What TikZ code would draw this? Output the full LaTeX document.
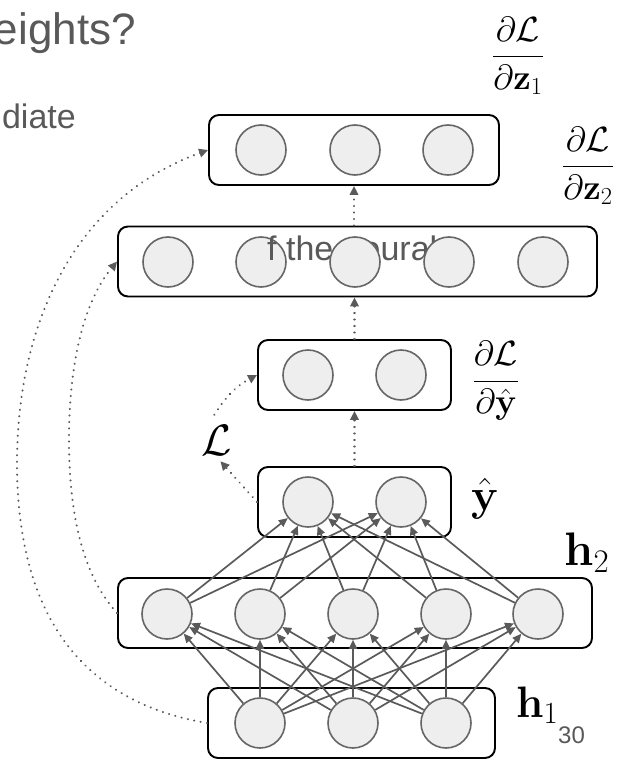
\RequirePackage{fix-cm}
\documentclass[tikz,border=0pt]{standalone}
\usepackage[no-math]{fontspec}
\setmainfont{Liberation Sans}
\usetikzlibrary{arrows.meta}
\definecolor{edgegray}{HTML}{5A5A5A}
\definecolor{circfill}{HTML}{EEEEEE}
\definecolor{circline}{HTML}{666666}
\definecolor{txtgray}{HTML}{595959}
\begin{document}
\begin{tikzpicture}[x=1pt,y=-1pt,
  layerbox/.style={draw=black, line width=1.9pt, rounded corners=10pt, minimum height=70pt, inner sep=0pt},
  neuron/.style={circle, draw=circline, fill=circfill, line width=1.6pt, minimum size=50pt, inner sep=0pt},
  conn/.style={draw=edgegray, line width=1.7pt, -{Triangle[length=9pt,width=8pt]}},
  flow/.style={draw=edgegray, line width=2.2pt, line cap=round, dash pattern=on 0.1pt off 6.4pt, -{Triangle[length=9pt,width=8.5pt,line cap=butt]}},
  slidetext/.style={text=txtgray, inner sep=0pt},
  mathlabel/.style={inner sep=0pt},
]
\useasboundingbox (0,0) rectangle (618,760);
% slide text
\node[slidetext, anchor=base east, font=\fontsize{44}{50}\selectfont] (title) at (136,45) {eights?};
\node[slidetext, anchor=base east, font=\fontsize{34}{40}\selectfont] (body) at (76,128) {diate};
% layer boxes
\node[layerbox, minimum width=290pt] (Bz1) at (354,150) {};
\node[layerbox, minimum width=479pt] (Bz2) at (357.5,261.5) {};
\node[layerbox, minimum width=193pt] (Bdy) at (354.5,375) {};
\node[layerbox, minimum width=193pt] (Byh) at (354.5,502) {};
\node[layerbox, minimum width=474pt] (Bh2) at (355,613) {};
\node[layerbox, minimum width=287pt] (Bh1) at (351.5,723) {};
% neurons
\node[neuron] (z1a) at (261,150) {};
\node[neuron] (z1b) at (355,150) {};
\node[neuron] (z1c) at (448,150) {};
\node[neuron] (z2a) at (168,262) {};
\node[neuron] (z2b) at (261,262) {};
\node[slidetext, anchor=base west, font=\fontsize{34}{40}\selectfont] (ghost) at (267,260) {f the neural};
\node[neuron] (z2c) at (355,262) {};
\node[neuron] (z2d) at (449,262) {};
\node[neuron] (z2e) at (543,262) {};
\node[neuron] (dya) at (308,375) {};
\node[neuron] (dyb) at (401,375) {};
\node[neuron] (yha) at (308,502) {};
\node[neuron] (yhb) at (401,502) {};
\node[neuron] (h2a) at (167,614) {};
\node[neuron] (h2b) at (260,614) {};
\node[neuron] (h2c) at (353,614) {};
\node[neuron] (h2d) at (446,614) {};
\node[neuron] (h2e) at (538,614) {};
\node[neuron] (h1a) at (260,723) {};
\node[neuron] (h1b) at (353,723) {};
\node[neuron] (h1c) at (446,723) {};
% full connections
\foreach \s in {a,b,c} \foreach \t in {a,b,c,d,e} \draw[conn] (h1\s) -- (h2\t);
\foreach \s in {a,b,c,d,e} \foreach \t in {a,b} \draw[conn] (h2\s) -- (yh\t);
% labels
\node[mathlabel, font=\fontsize{35}{40}\selectfont] (dz1) at (518,56) {$\displaystyle\frac{\partial\mathcal{L}}{\partial\mathbf{z}_1}$};
\node[mathlabel, font=\fontsize{35}{40}\selectfont] (dz2) at (588,166) {$\displaystyle\frac{\partial\mathcal{L}}{\partial\mathbf{z}_2}$};
\node[mathlabel, font=\fontsize{35}{40}\selectfont] (dyh) at (496,381) {$\displaystyle\frac{\partial\mathcal{L}}{\partial\hat{\mathbf{y}}}$};
\node[mathlabel, font=\fontsize{45}{48}\selectfont, anchor=base west] (yhl) at (471,510) {$\hat{\mathbf{y}}$};
\node[mathlabel, font=\fontsize{47}{50}\selectfont, anchor=base west] (h2l) at (564,565) {$\mathbf{h}_2$};
\node[mathlabel, font=\fontsize{44}{48}\selectfont, anchor=base west] (h1l) at (516,717) {$\mathbf{h}_1$};
\node[slidetext, font=\fontsize{24}{28}\selectfont, anchor=base west] (pg) at (558,743) {30};
\node[mathlabel, font=\fontsize{44}{48}\selectfont, anchor=base west] (Lab) at (201,455) {$\mathcal{L}$};
% backward flow arrows
\draw[flow] (Byh.north) -- (Bdy.south);
\draw[flow] (Bdy.north) -- (Bdy.north |- Bz2.south);
\draw[flow] (Bz1.south |- Bz2.north) -- (Bz1.south);
\draw[flow] (Byh.west) -- ([shift={(4,6)}]Lab.south);
\draw[flow] ([shift={(-2,-10)}]Lab.north) to[bend left=15] (Bdy.west);
\draw[flow] (Bh2.west) .. controls (85,578) and (69,520) .. (69,440) .. controls (69,360) and (85,300) .. (Bz2.west);
\draw[flow] (Bh1.west) .. controls (70,700) and (17,600) .. (17,463) .. controls (17,330) and (70,200) .. (Bz1.west);
\end{tikzpicture}
\end{document}
